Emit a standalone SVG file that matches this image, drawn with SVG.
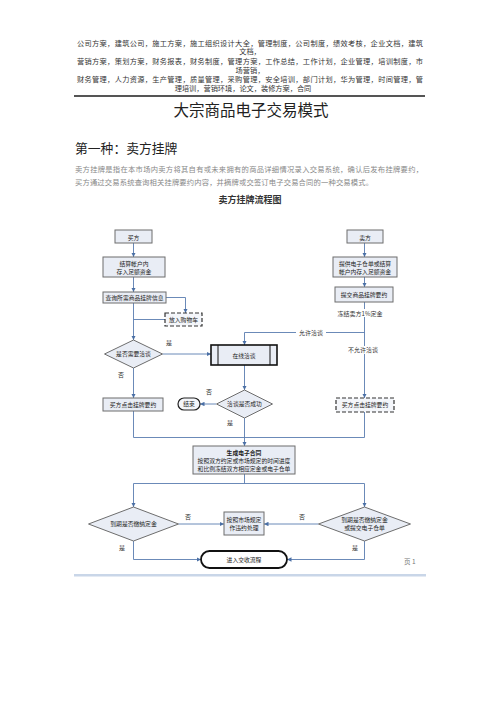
<svg xmlns="http://www.w3.org/2000/svg" width="500" height="708" viewBox="0 0 500 708">
<style>
.hd{font-family:"Noto Sans CJK SC","Noto Sans",sans-serif;font-size:7.2px;fill:#333;text-anchor:middle}
.pa{font-family:"Noto Sans CJK SC","Noto Sans",sans-serif;font-size:7.3px;fill:#888}
.bx{fill:#e9edf5;stroke:#6d6d6d;stroke-width:1}
.dash{fill:#f4f6fa;stroke:#333;stroke-width:1.2;stroke-dasharray:4 2}
.t{font-family:"Noto Sans CJK SC","Noto Sans",sans-serif;font-size:5.8px;fill:#222;text-anchor:middle}
.lb{font-family:"Noto Sans CJK SC","Noto Sans",sans-serif;font-size:6px;fill:#333;text-anchor:middle}
.cn{fill:none;stroke:#5a7db0;stroke-width:0.9}
.ca{fill:none;stroke:#5a7db0;stroke-width:0.9;marker-end:url(#ah)}
</style>
<defs>
<marker id="ah" viewBox="0 0 6 6" refX="6" refY="3" markerWidth="4.5" markerHeight="4.5" orient="auto" markerUnits="userSpaceOnUse"><path d="M0,0 L6,3 L0,6 z" fill="#4a6fa5"/></marker>
</defs>
<rect width="500" height="708" fill="#fff"/>
<g id="header">
<text class="hd" x="250" y="45.5" textLength="346" lengthAdjust="spacing">公司方案，建筑公司，施工方案，施工组织设计大全，管理制度，公司制度，绩效考核，企业文档，建筑</text>
<text class="hd" x="250" y="54">文档，</text>
<text class="hd" x="250" y="64" textLength="346" lengthAdjust="spacing">营销方案，策划方案，财务报表，财务制度，管理方案，工作总结，工作计划，企业管理，培训制度，市</text>
<text class="hd" x="250" y="72.5">场营销，</text>
<text class="hd" x="250" y="82" textLength="346" lengthAdjust="spacing">财务管理，人力资源，生产管理，质量管理，采购管理，安全培训，部门计划，华为管理，时间管理，管</text>
<text class="hd" x="243" y="90.5">理培训，营销环境，论文，装修方案，合同</text>
<rect x="74" y="95" width="351" height="2" fill="#555"/>
</g>
<g id="titles">
<text x="251" y="115.5" font-family="'Noto Sans CJK SC',sans-serif" font-size="15.5" fill="#222" text-anchor="middle">大宗商品电子交易模式</text>
<text x="75" y="153" font-family="'Noto Sans CJK SC',sans-serif" font-size="12.8" fill="#222">第一种：卖方挂牌</text>
<text class="pa" x="75" y="171.5" textLength="348" lengthAdjust="spacing">卖方挂牌是指在本市场内卖方将其自有或未来拥有的商品详细情况录入交易系统，确认后发布挂牌要约，</text>
<text class="pa" x="75" y="185" textLength="298" lengthAdjust="spacing">买方通过交易系统查询相关挂牌要约内容，并摘牌或交签订电子交易合同的一种交易模式。</text>
<text x="250" y="203" font-family="'Noto Sans CJK SC',sans-serif" font-size="9" font-weight="bold" fill="#333" text-anchor="middle">卖方挂牌流程图</text>
</g>
<g id="connectors">
<path class="ca" d="M133.5,243 V257"/>
<path class="ca" d="M133.5,277 V292"/>
<path class="ca" d="M133.5,303 V340"/>
<path class="ca" d="M166,297.5 H185.5 V313"/>
<path class="cn" d="M165,319.5 H133.5"/>
<path class="ca" d="M162.5,354 H211"/>
<path class="ca" d="M133.5,368 V398"/>
<path class="cn" d="M133.5,411 V437.5 H364.5 V412"/>
<path class="ca" d="M244.5,418 V446"/>
<path class="ca" d="M364.5,243 V257"/>
<path class="ca" d="M364.5,277 V287"/>
<path class="ca" d="M364.5,302 V398"/>
<path class="ca" d="M364.5,332.5 H244.5 V345"/>
<path class="ca" d="M244.5,365 V390"/>
<path class="ca" d="M216,404 H200"/>
<path class="cn" d="M244.5,474 V483.5"/>
<path class="ca" d="M133.5,483.5 H364.5 V507"/>
<path class="ca" d="M133.5,483.5 V507"/>
<path class="ca" d="M178.5,524 H224"/>
<path class="ca" d="M318.5,524 H264"/>
<path class="ca" d="M133.5,541 V559.5 H201"/>
<path class="ca" d="M364.5,541 V559.5 H287"/>
<rect x="296" y="328.5" width="30" height="8" fill="#fff"/>
<text class="lb" x="311" y="334.8">允许洽谈</text>
<rect x="339" y="309" width="42" height="8" fill="#fff"/>
<text class="lb" x="360" y="315.5">冻结卖方1%定金</text>
<rect x="347" y="346" width="33" height="8" fill="#fff"/>
<text class="lb" x="363" y="352.3">不允许洽谈</text>
<text class="lb" x="169" y="345">是</text>
<text class="lb" x="121" y="377">否</text>
<text class="lb" x="209" y="394">否</text>
<text class="lb" x="230" y="425">是</text>
<text class="lb" x="188" y="518.5">否</text>
<text class="lb" x="302" y="518.5">否</text>
<text class="lb" x="122" y="550">是</text>
<text class="lb" x="355" y="550">是</text>
</g>
<g id="buyer"><rect class="bx" x="115" y="230" width="37" height="13"/><text class="t" x="133.5" y="239.5" font-size="7.5">买方</text></g>
<g id="buyer_fund"><rect class="bx" x="103" y="257" width="62" height="20"/><text class="t" x="134" y="265.5" font-size="6.3">结算帐户内</text><text class="t" x="134" y="273.5" font-size="6.3">存入足额资金</text></g>
<g id="buyer_query"><rect class="bx" x="103" y="292" width="63" height="11"/><text class="t" x="134.5" y="299.8" font-size="5.9">查询所需商品挂牌信息</text></g>
<g id="cart"><rect class="dash" x="165" y="313" width="37" height="13"/><text class="t" x="183.5" y="321.8">放入购物车</text></g>
<g id="need_negotiate"><polygon class="bx" points="133.5,340 162.5,354 133.5,368 104.5,354"/><text class="t" x="133.5" y="356">是否需要洽谈</text></g>
<g id="buyer_offer"><rect class="bx" x="103" y="398" width="60" height="13"/><text class="t" x="133" y="406.8" font-size="6">买方点击挂牌要约</text></g>
<g id="seller"><rect class="bx" x="347" y="230" width="36" height="13"/><text class="t" x="365" y="239.5" font-size="7.5">卖方</text></g>
<g id="seller_fund"><rect class="bx" x="333" y="257" width="64" height="20"/><text class="t" x="365" y="265.5" font-size="6.3">提供电子仓单或结算</text><text class="t" x="365" y="273.5" font-size="6.3">帐户内存入足额资金</text></g>
<g id="seller_offer"><rect class="bx" x="335" y="287" width="58" height="15"/><text class="t" x="364" y="296.8">提交商品挂牌要约</text></g>
<g id="online"><rect x="211" y="345" width="66" height="20" fill="#e9edf5" stroke="#111" stroke-width="1.6"/><line x1="218" y1="345" x2="218" y2="365" stroke="#111" stroke-width="1"/><line x1="270" y1="345" x2="270" y2="365" stroke="#111" stroke-width="1"/><text class="t" x="244" y="358" font-size="8.5">在线洽谈</text></g>
<g id="success"><polygon class="bx" points="244.5,390 272.5,404 244.5,418 216.5,404"/><text class="t" x="244.5" y="406">洽谈是否成功</text></g>
<g id="end"><rect x="178" y="398" width="22" height="12" rx="6" fill="#f4f6fa" stroke="#222" stroke-width="1.2"/><text class="t" x="189" y="406.2" font-size="6">结束</text></g>
<g id="buyer_offer2"><rect class="dash" x="336" y="398" width="58" height="14"/><text class="t" x="365" y="407.3" font-size="6">买方点击挂牌要约</text></g>
<g id="contract"><rect class="bx" x="193" y="446" width="102" height="28"/><text class="t" x="244" y="455" font-size="8" font-weight="bold">生成电子合同</text><text class="t" x="244" y="463" font-size="5.3">按照双方约定或市场规定的时间进度</text><text class="t" x="244" y="470.6" font-size="5.3">和比例冻结双方相应定金或电子仓单</text></g>
<g id="due_left"><polygon class="bx" points="133.5,507 178.5,524 133.5,541 88.5,524"/><text class="t" x="133.5" y="526">到期是否缴纳定金</text></g>
<g id="penalty"><rect class="bx" x="224" y="512" width="40" height="23"/><text class="t" x="244" y="521.5">按照市场规定</text><text class="t" x="244" y="529.5">作违约处理</text></g>
<g id="due_right"><polygon class="bx" points="364.5,507 410.5,524 364.5,541 318.5,524"/><text class="t" x="364.5" y="522">到期是否缴纳定金</text><text class="t" x="364.5" y="530">或提交电子仓单</text></g>
<g id="delivery"><rect x="201" y="551" width="86" height="17" rx="8.5" fill="#fff" stroke="#111" stroke-width="1.8"/><text class="t" x="244" y="562.3" font-size="8.2">进入交收流程</text></g>
<g id="footer">
<text x="404" y="564" font-family="'Noto Sans CJK SC',sans-serif" font-size="6.5" fill="#777">页 1</text>
<rect x="74" y="574" width="352" height="2.5" fill="#c9d6e8"/>
</g>
</svg>
